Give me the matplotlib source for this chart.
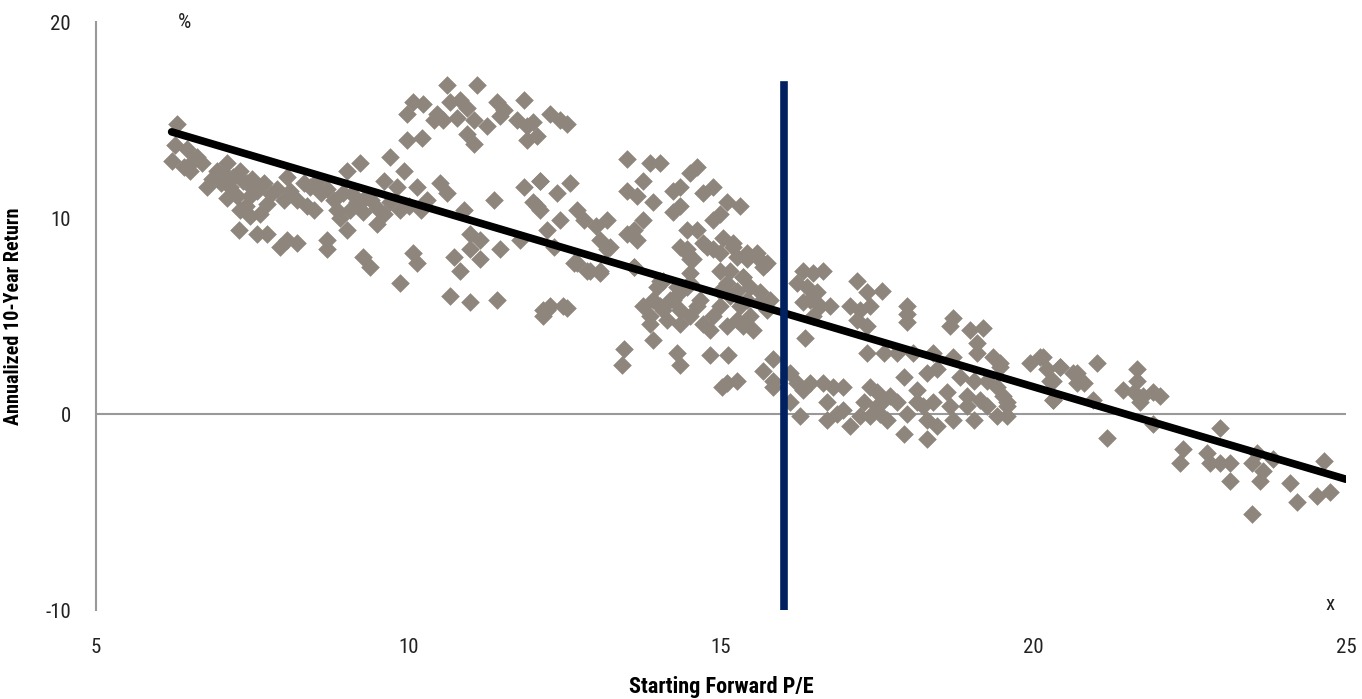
import numpy as np
import matplotlib
matplotlib.use('Agg')
import matplotlib.pyplot as plt
from matplotlib import font_manager

names = {f.name for f in font_manager.fontManager.ttflist}
narrow = [n for n in ['Liberation Sans Narrow', 'Roboto Condensed', 'Open Sans Condensed',
                      'DejaVu Sans Condensed'] if n in names]
plt.rcParams['font.family'] = narrow + ['DejaVu Sans']
plt.rcParams['font.stretch'] = 'condensed'
plt.rcParams['axes.unicode_minus'] = False

# starting forward P/E vs annualized 10-year return (%)
pe_left = [6.29, 6.26, 6.21, 6.45, 6.5, 6.61, 6.69, 6.77, 6.93, 7.09, 7.19, 7.3, 7.14, 7.41, 7.25, 7.46,
           7.57, 7.68, 7.73, 7.3, 7.46, 7.62, 7.28, 7.57, 7.73, 7.94, 8.05, 8.21, 8.05, 8.1, 8.0, 8.21,
           8.32, 8.42, 8.53, 8.37, 8.48, 8.69, 8.69, 8.8, 8.85, 8.95, 9.01, 9.22, 9.06, 9.17, 9.27, 9.01,
           9.49, 9.27, 9.38, 9.6, 9.71, 9.92, 9.81, 9.71, 9.86, 10.13, 10.07, 10.13, 9.86, 10.5, 10.61,
           10.88, 10.98, 11.14, 10.98, 10.72, 10.82, 11.14, 11.46, 11.36, 11.78, 11.84, 12.1, 11.99, 12.1,
           10.66, 10.98, 11.41, 12.15, 6.85, 7.0, 7.05, 7.35, 7.5, 7.1, 7.4, 7.8, 7.9, 6.4, 6.55, 8.6,
           8.7, 9.1, 9.3, 9.4, 8.9, 9.5, 9.6, 10.0, 10.2, 10.3]
ret_left = [14.8, 13.7, 12.9, 13.5, 12.4, 13.1, 12.8, 11.6, 12.4, 12.8, 12.1, 12.4, 11.6, 11.8, 11.1, 11.1,
            11.4, 11.8, 10.7, 10.4, 10.1, 10.2, 9.4, 9.2, 9.2, 8.5, 8.9, 8.7, 12.1, 11.4, 10.9, 10.9,
            11.8, 11.6, 11.9, 10.6, 10.4, 8.9, 8.4, 10.9, 10.4, 11.3, 12.4, 12.8, 10.4, 10.8, 10.3, 9.4,
            9.7, 8.0, 7.5, 11.9, 13.1, 12.4, 11.6, 10.8, 10.4, 11.6, 8.2, 7.7, 6.7, 11.8, 11.3,
            10.4, 9.2, 8.9, 8.4, 8.0, 7.3, 7.9, 8.4, 10.9, 8.9, 11.6, 11.9, 10.8, 10.4,
            6.0, 5.7, 5.8, 5.3, 12.0, 11.8, 12.3, 11.9, 12.0, 11.0, 10.6, 11.2, 11.5, 12.6, 12.9, 11.3,
            11.5, 11.2, 11.0, 10.9, 10.0, 10.5, 10.2, 10.6, 10.4, 10.9]

pe_upper = [10.61, 11.09, 10.07, 10.23, 9.97, 10.45, 10.66, 10.82, 10.93, 10.55, 10.40, 10.77, 11.04,
            11.25, 10.93, 11.04, 11.41, 11.52, 11.46, 11.84, 11.73, 11.89, 11.99, 11.89, 12.05, 12.26,
            12.42, 12.53, 9.97, 10.21]
ret_upper = [16.8, 16.8, 15.9, 15.8, 15.3, 15.3, 15.9, 16.0, 15.6, 15.0, 15.0, 15.1, 15.0,
             14.7, 14.3, 13.8, 15.9, 15.5, 15.2, 16.0, 15.0, 14.7, 14.9, 14.0, 14.2, 15.3,
             15.0, 14.8, 14.0, 14.1]

pe_mid = [12.1, 12.58, 12.37, 12.05, 12.21, 12.42, 12.69, 12.8, 13.0, 13.17, 13.06, 13.22, 12.69, 12.9,
          13.06, 13.49, 13.86, 14.02, 13.75, 13.49, 13.65, 13.91, 14.23, 14.34, 14.5, 14.61, 14.71, 14.87,
          14.23, 14.34, 15.09, 15.3, 14.87, 14.98, 13.75, 13.6, 13.49, 13.65, 14.45, 14.61, 14.45, 14.5,
          14.71, 14.87, 15.03, 15.19, 15.25, 15.41, 15.57, 15.67, 15.14, 15.35, 15.46, 15.62, 15.78, 14.98,
          15.14, 12.21, 12.47, 14.02, 14.18, 14.34, 13.6, 14.07, 14.29, 14.5,
          12.26, 12.53, 12.15, 13.44, 13.41, 13.91, 13.86, 14.29, 14.34, 14.82, 15.11, 15.09, 15.25, 15.01,
          15.67, 15.83, 15.83, 15.83,
          13.75, 13.91, 13.86, 14.07, 14.13, 14.23, 14.34, 14.45, 14.34, 14.5, 14.61, 14.66, 14.71, 14.87,
          14.98, 14.82, 15.09, 15.25, 15.35, 15.46, 15.51, 15.3, 15.41, 15.62, 15.73, 15.25, 15.09, 15.35,
          14.98, 15.41, 15.57, 15.73, 14.45, 14.34, 14.5, 14.55, 14.77, 14.98, 15.19, 13.97, 14.02, 13.6,
          13.17, 13.06, 12.85, 12.64, 12.32]
ret_mid = [11.9, 11.8, 11.3, 10.6, 9.4, 9.9, 10.4, 9.9, 9.6, 9.9, 8.9, 8.5, 7.7, 7.3,
           7.2, 13.0, 12.8, 12.8, 11.9, 11.4, 11.1, 10.8, 11.4, 11.6, 12.3, 12.6, 11.3, 11.6,
           10.3, 10.6, 10.8, 10.6, 9.9, 10.2, 9.9, 9.4, 9.2, 8.9, 9.4, 9.4, 8.4, 7.9,
           8.7, 8.4, 9.0, 8.7, 8.0, 8.2, 8.0, 7.5, 7.3, 7.0, 6.5, 6.2, 5.8, 6.3,
           6.0, 5.3, 5.5, 5.5, 5.8, 5.3, 7.5, 6.8, 6.5, 6.7,
           5.5, 5.4, 5.0, 3.3, 2.5, 3.8, 4.6, 3.1, 2.5, 3.0, 3.0, 1.6, 1.7, 1.4,
           2.2, 2.8, 1.7, 1.4,
           5.5, 5.8, 5.0, 5.3, 4.8, 5.8, 6.2, 6.5, 4.6, 5.0, 5.5, 5.8, 4.6, 5.0,
           5.5, 4.3, 4.5, 4.8, 4.5, 5.0, 4.3, 5.5, 5.8, 5.7, 5.3, 6.3, 6.7, 7.0,
           7.3, 7.9, 8.2, 7.7, 8.2, 8.5, 7.2, 7.9, 8.5, 8.2, 8.5, 6.5, 6.8, 7.5,
           8.4, 7.3, 7.3, 7.7, 8.5]

pe_right = [16.31, 16.47, 16.63, 16.21, 16.37, 16.53, 16.42, 16.31, 16.58, 16.74, 16.47, 16.34, 17.17,
            17.33, 17.57, 17.06, 17.22, 17.38, 17.17, 17.33, 17.97, 17.98, 17.98, 18.71, 18.66, 18.98,
            19.19, 19.09, 19.09, 19.35, 19.46, 19.94, 20.1, 20.21, 20.42, 20.31, 20.63, 20.69, 20.31,
            17.33, 17.6, 17.81, 18.07, 18.39, 18.71, 18.29, 18.45, 18.82, 19.04, 19.25, 19.41, 19.51,
            19.57, 19.41, 17.92,
            16.1, 16.21, 16.31, 16.42, 16.1, 16.26, 16.63, 16.79, 16.95, 16.69, 16.85, 16.95, 17.06,
            16.69, 17.28, 17.38, 17.49, 17.6, 17.7, 17.22, 17.38, 17.54, 17.65, 17.49, 17.81, 17.97,
            18.13, 18.13, 18.23, 18.39, 18.29, 18.45, 17.92, 18.29, 18.61, 18.66, 18.93, 18.93, 19.14,
            19.25, 18.71, 19.04, 19.57]
ret_right = [7.3, 7.2, 7.3, 6.7, 6.5, 6.2, 5.8, 5.7, 5.5, 5.5, 5.0, 3.9, 6.8,
             6.2, 6.3, 5.5, 5.3, 5.5, 4.8, 4.5, 5.5, 5.1, 4.7, 4.9, 4.5, 4.3,
             4.4, 3.6, 3.1, 2.9, 2.4, 2.6, 2.9, 2.3, 2.4, 1.7, 2.1, 1.6, 0.7,
             3.1, 3.1, 3.1, 3.1, 3.1, 2.9, 2.1, 2.3, 1.9, 1.7, 1.7, 1.4, 0.9,
             0.4, -0.1, 1.9,
             2.1, 1.6, 1.2, 1.6, 0.6, -0.1, 1.6, 1.4, 1.4, 0.6, 0.0, 0.2, -0.6,
             -0.3, 0.6, 1.4, 1.1, 0.7, 0.9, -0.1, -0.1, 0.0, -0.3, 0.4, 0.6, 0.0,
             1.2, 0.6, 0.4, 0.6, -0.3, -0.6, -1.0, -1.3, 1.1, 0.4, 0.9, 0.4, 0.7,
             0.4, -0.3, -0.3, 0.6]

pe_far = [20.15, 20.42, 20.69, 20.8, 21.01, 20.26, 20.31, 20.95, 21.17, 21.43, 21.65, 21.65, 21.6,
          21.75, 21.91, 22.02, 21.7, 21.91, 22.98, 22.39, 22.34, 22.77, 22.82, 22.98, 23.14, 23.14,
          23.57, 23.5, 23.67, 23.62, 23.83, 23.5, 24.1, 24.21, 24.53, 24.64, 24.74, 19.46, 19.57]
ret_far = [2.9, 2.4, 2.1, 1.6, 2.6, 1.7, 0.7, 0.7, -1.2, 1.2, 2.3, 1.7, 1.1,
           0.9, 1.1, 0.9, 0.6, -0.5, -0.7, -1.8, -2.5, -2.0, -2.5, -2.5, -2.5, -3.4,
           -2.0, -2.5, -2.9, -3.4, -2.3, -5.1, -3.5, -4.5, -4.2, -2.4, -4.0, 2.6, -0.1]

pe = np.array(pe_left + pe_upper + pe_mid + pe_right + pe_far)
ret = np.array(ret_left + ret_upper + ret_mid + ret_right + ret_far)

avg_pe = 16.0

fig = plt.figure(figsize=(13.62, 6.99), dpi=100)
ax = fig.add_axes([0.0705, 0.1273, 0.9178, 0.8412])

ax.scatter(pe, ret, marker='D', s=90, color='#8E857C', linewidths=0, zorder=2)

# fitted trend line
slope, icpt = np.polyfit(pe, ret, 1)
xx = np.array([pe.min(), 25])
ax.plot(xx, slope * xx + icpt, color='black', lw=5.5, solid_capstyle='round', zorder=3)

ax.plot([avg_pe, avg_pe], [-10, 16.8], color='#002060', lw=5.5, zorder=4)
ax.axhline(0, color='#999999', lw=1.5, zorder=1)

ax.set_xlim(5, 25)
ax.set_ylim(-10, 20)
ax.set_xticks([5, 10, 15, 20, 25])
ax.set_yticks([-10, 0, 10, 20])
for s in ['top', 'right', 'bottom']:
    ax.spines[s].set_visible(False)
ax.spines['left'].set_color('#999999')
ax.spines['left'].set_linewidth(1.5)
ax.tick_params(length=0, labelsize=15, colors='#222222')
ax.tick_params(axis='x', pad=20)
ax.tick_params(axis='y', pad=18)

ax.set_ylabel('Annualized 10-Year Return', fontsize=14.5, fontweight='bold', labelpad=16)
ax.set_xlabel('Starting Forward P/E', fontsize=16, fontweight='bold', labelpad=14)
ax.text(6.42, 20, '%', fontsize=15, ha='center', va='center', color='#222222')
ax.text(24.74, -9.7, 'x', fontsize=15, ha='center', va='center', color='#222222')

fig.savefig('out.png', dpi=100)
